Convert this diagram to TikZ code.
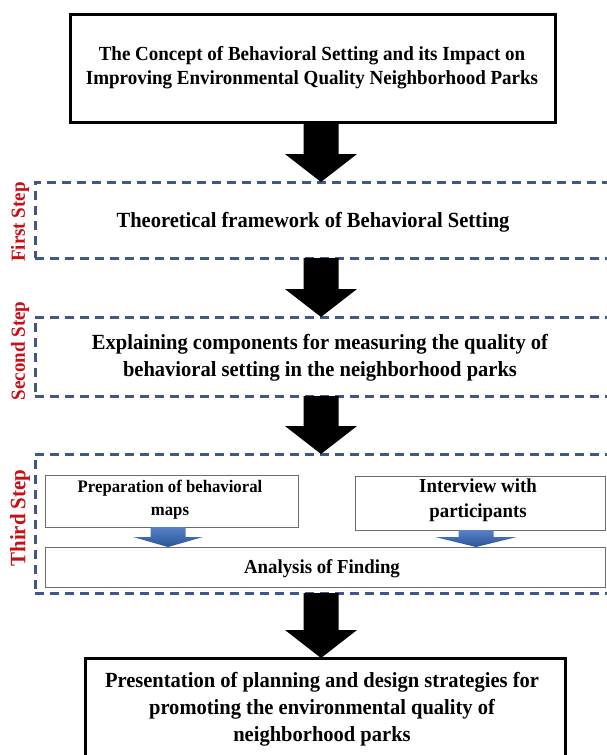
\documentclass[tikz,border=0pt]{standalone}
\usepackage{fontspec}
\setmainfont{Liberation Serif}[FakeStretch=0.95]
\usetikzlibrary{calc}
\definecolor{dashblue}{RGB}{63,88,138}
\definecolor{stepred}{RGB}{200,16,20}
\definecolor{arrtop}{RGB}{88,130,196}
\definecolor{arrbot}{RGB}{40,84,156}
\newcommand\blkarrow[7]{%
  \path[#1] let \p1=(#3), \p2=(#4) in
    (#2pt-#5pt,\y1) -- (#2pt+#5pt,\y1) -- (#2pt+#5pt,\y2+#7pt) --
    (#2pt+#6pt,\y2+#7pt) -- (#2pt,\y2) -- (#2pt-#6pt,\y2+#7pt) --
    (#2pt-#5pt,\y2+#7pt) -- cycle;}
\begin{document}
\begin{tikzpicture}[x=1pt,y=-1pt,
  solidbox/.style={draw=black,line width=3pt,inner sep=0,outer sep=0},
  dashbox/.style={draw=dashblue,line width=3pt,dash pattern=on 9pt off 6pt,inner sep=0,outer sep=0},
  thinbox/.style={draw=gray!85!black,line width=1pt,inner sep=0,outer sep=0},
  txt/.style={font=\bfseries,align=center,inner sep=0},
  steplabel/.style={font=\bfseries\fontsize{20}{20}\selectfont,text=stepred,rotate=90,inner sep=0},
  bigarr/.style={fill=black},
  bluearr/.style={top color=arrtop,bottom color=arrbot}]
\useasboundingbox (0,0) rectangle (607,755);
% boxes
\node[solidbox,minimum width=485pt,minimum height=108pt] (top) at (312.5,68) {};
\node[dashbox,minimum width=580pt,minimum height=76pt] (s1) at (325,220) {};
\node[dashbox,minimum width=580pt,minimum height=79pt] (s2) at (325,356.5) {};
\node[dashbox,minimum width=580pt,minimum height=139pt] (s3) at (325,523.5) {};
\node[thinbox,minimum width=253pt,minimum height=52pt] (pm) at (171.5,501) {};
\node[thinbox,minimum width=250pt,minimum height=54pt] (iw) at (480,503) {};
\node[thinbox,minimum width=560pt,minimum height=40pt] (af) at (325,567) {};
\node[solidbox,minimum width=480pt,minimum height=110pt] (bot) at (325,713) {};
% texts
\node[txt,font=\bfseries\fontsize{20}{24}\selectfont] (ttop) at (312,68)
  {The Concept of Behavioral Setting and its Impact on\\Improving Environmental Quality Neighborhood Parks};
\node[txt,font=\bfseries\fontsize{21.6}{24}\selectfont] (t1) at (313,222)
  {Theoretical framework of Behavioral Setting};
\node[txt,font=\bfseries\fontsize{21.6}{27}\selectfont] (t2) at (320,358)
  {Explaining components for measuring the quality of\\behavioral setting in the neighborhood parks};
\node[txt,font=\bfseries\fontsize{17.6}{23}\selectfont] (tpm) at (170,500)
  {Preparation of behavioral\\maps};
\node[txt,font=\bfseries\fontsize{19.8}{25}\selectfont] (tiw) at (478,500)
  {Interview with\\participants};
\node[txt,font=\bfseries\fontsize{19.8}{20}\selectfont] (taf) at (322,569)
  {Analysis of Finding};
\node[txt,font=\bfseries\fontsize{21.6}{27}\selectfont] (tbot) at (322,709)
  {Presentation of planning and design strategies for\\promoting the environmental quality of\\neighborhood parks};
% step labels
\node[steplabel] (l1) at (20,222) {First Step};
\node[steplabel] (l2) at (20,351) {Second Step};
\node[steplabel,font=\bfseries\fontsize{22}{22}\selectfont] (l3) at (20,518) {Third Step};
% arrows
\blkarrow{bigarr}{321}{top.south}{s1.north}{17.5}{36}{28}
\blkarrow{bigarr}{321}{s1.south}{s2.north}{17.5}{36}{28}
\blkarrow{bigarr}{321}{s2.south}{s3.north}{17.5}{36}{28}
\blkarrow{bigarr}{321}{s3.south}{bot.north}{17.5}{36}{28}
\blkarrow{bluearr}{168}{pm.south}{af.north}{17.5}{35}{10}
\blkarrow{bluearr}{476}{iw.south}{af.north}{17.5}{41}{10}
\end{tikzpicture}
\end{document}
